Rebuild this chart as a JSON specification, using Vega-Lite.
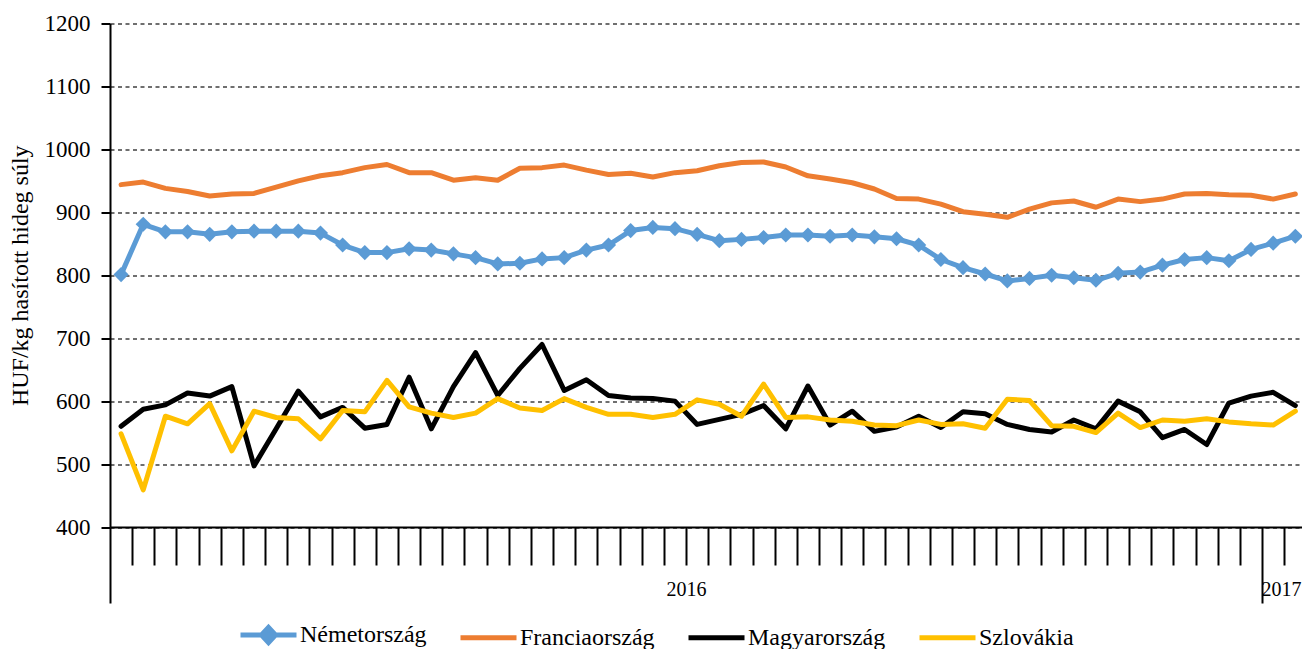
{
  "$schema": "https://vega.github.io/schema/vega-lite/v6.json",
  "width": 1192,
  "height": 503.5,
  "autosize": {"type": "none"},
  "padding": {"left": 110, "top": 23.5, "right": 0, "bottom": 122},
  "background": "white",
  "config": {"view": {"stroke": null}, "font": "Liberation Serif"},
  "data": {
    "values": [
      {"n": 1, "Németország": 801, "Franciaország": 944, "Magyarország": 560, "Szlovákia": 548},
      {"n": 2, "Németország": 881, "Franciaország": 948, "Magyarország": 587, "Szlovákia": 459},
      {"n": 3, "Németország": 869, "Franciaország": 938, "Magyarország": 594, "Szlovákia": 576},
      {"n": 4, "Németország": 869, "Franciaország": 933, "Magyarország": 613, "Szlovákia": 564},
      {"n": 5, "Németország": 865, "Franciaország": 926, "Magyarország": 608, "Szlovákia": 596},
      {"n": 6, "Németország": 869, "Franciaország": 929, "Magyarország": 623, "Szlovákia": 521},
      {"n": 7, "Németország": 870, "Franciaország": 930, "Magyarország": 497, "Szlovákia": 584},
      {"n": 8, "Németország": 870, "Franciaország": 940, "Magyarország": 556, "Szlovákia": 574},
      {"n": 9, "Németország": 870, "Franciaország": 950, "Magyarország": 616, "Szlovákia": 572},
      {"n": 10, "Németország": 867, "Franciaország": 958, "Magyarország": 575, "Szlovákia": 540},
      {"n": 11, "Németország": 848, "Franciaország": 963, "Magyarország": 590, "Szlovákia": 585},
      {"n": 12, "Németország": 836, "Franciaország": 971, "Magyarország": 557, "Szlovákia": 583},
      {"n": 13, "Németország": 836, "Franciaország": 976, "Magyarország": 563, "Szlovákia": 633},
      {"n": 14, "Németország": 842, "Franciaország": 963, "Magyarország": 638, "Szlovákia": 591},
      {"n": 15, "Németország": 840, "Franciaország": 963, "Magyarország": 556, "Szlovákia": 581},
      {"n": 16, "Németország": 834, "Franciaország": 951, "Magyarország": 623, "Szlovákia": 574},
      {"n": 17, "Németország": 828, "Franciaország": 955, "Magyarország": 677, "Szlovákia": 581},
      {"n": 18, "Németország": 818, "Franciaország": 951, "Magyarország": 609, "Szlovákia": 604},
      {"n": 19, "Németország": 819, "Franciaország": 970, "Magyarország": 652, "Szlovákia": 589},
      {"n": 20, "Németország": 826, "Franciaország": 971, "Magyarország": 690, "Szlovákia": 585},
      {"n": 21, "Németország": 828, "Franciaország": 975, "Magyarország": 617, "Szlovákia": 604},
      {"n": 22, "Németország": 840, "Franciaország": 967, "Magyarország": 634, "Szlovákia": 590},
      {"n": 23, "Németország": 848, "Franciaország": 960, "Magyarország": 609, "Szlovákia": 579},
      {"n": 24, "Németország": 871, "Franciaország": 962, "Magyarország": 605, "Szlovákia": 579},
      {"n": 25, "Németország": 876, "Franciaország": 956, "Magyarország": 604, "Szlovákia": 574},
      {"n": 26, "Németország": 874, "Franciaország": 963, "Magyarország": 600, "Szlovákia": 579},
      {"n": 27, "Németország": 865, "Franciaország": 966, "Magyarország": 563, "Szlovákia": 602},
      {"n": 28, "Németország": 855, "Franciaország": 974, "Magyarország": 571, "Szlovákia": 595},
      {"n": 29, "Németország": 857, "Franciaország": 979, "Magyarország": 579, "Szlovákia": 576},
      {"n": 30, "Németország": 860, "Franciaország": 980, "Magyarország": 593, "Szlovákia": 627},
      {"n": 31, "Németország": 864, "Franciaország": 972, "Magyarország": 556, "Szlovákia": 574},
      {"n": 32, "Németország": 864, "Franciaország": 958, "Magyarország": 624, "Szlovákia": 575},
      {"n": 33, "Németország": 862, "Franciaország": 953, "Magyarország": 562, "Szlovákia": 570},
      {"n": 34, "Németország": 864, "Franciaország": 947, "Magyarország": 584, "Szlovákia": 568},
      {"n": 35, "Németország": 861, "Franciaország": 937, "Magyarország": 552, "Szlovákia": 562},
      {"n": 36, "Németország": 858, "Franciaország": 922, "Magyarország": 559, "Szlovákia": 561},
      {"n": 37, "Németország": 848, "Franciaország": 921, "Magyarország": 576, "Szlovákia": 570},
      {"n": 38, "Németország": 825, "Franciaország": 913, "Magyarország": 558, "Szlovákia": 563},
      {"n": 39, "Németország": 812, "Franciaország": 901, "Magyarország": 583, "Szlovákia": 564},
      {"n": 40, "Németország": 802, "Franciaország": 897, "Magyarország": 580, "Szlovákia": 557},
      {"n": 41, "Németország": 791, "Franciaország": 892, "Magyarország": 563, "Szlovákia": 603},
      {"n": 42, "Németország": 795, "Franciaország": 905, "Magyarország": 555, "Szlovákia": 601},
      {"n": 43, "Németország": 800, "Franciaország": 915, "Magyarország": 551, "Szlovákia": 561},
      {"n": 44, "Németország": 796, "Franciaország": 918, "Magyarország": 570, "Szlovákia": 560},
      {"n": 45, "Németország": 792, "Franciaország": 908, "Magyarország": 556, "Szlovákia": 550},
      {"n": 46, "Németország": 803, "Franciaország": 921, "Magyarország": 600, "Szlovákia": 581},
      {"n": 47, "Németország": 805, "Franciaország": 917, "Magyarország": 583, "Szlovákia": 558},
      {"n": 48, "Németország": 816, "Franciaország": 921, "Magyarország": 542, "Szlovákia": 570},
      {"n": 49, "Németország": 825, "Franciaország": 929, "Magyarország": 555, "Szlovákia": 568},
      {"n": 50, "Németország": 828, "Franciaország": 930, "Magyarország": 531, "Szlovákia": 572},
      {"n": 51, "Németország": 823, "Franciaország": 928, "Magyarország": 597, "Szlovákia": 567},
      {"n": 52, "Németország": 841, "Franciaország": 927, "Magyarország": 608, "Szlovákia": 564},
      {"n": 53, "Németország": 851, "Franciaország": 921, "Magyarország": 614, "Szlovákia": 562},
      {"n": 54, "Németország": 862, "Franciaország": 929, "Magyarország": 593, "Szlovákia": 584}
    ]
  },
  "transform": [
    {"fold": ["Németország", "Franciaország", "Magyarország", "Szlovákia"], "as": ["orszag", "ar"]}
  ],
  "layer": [
    {
      "mark": {"type": "line", "strokeWidth": 5, "strokeJoin": "round", "strokeCap": "round"},
      "encoding": {
        "x": {
          "field": "n",
          "type": "quantitative",
          "scale": {"domain": [0.5, 54.3], "nice": false, "zero": false},
          "axis": {
            "title": null,
            "tickCount": 200,
            "values": [0.5, 1.5, 2.5, 3.5, 4.5, 5.5, 6.5, 7.5, 8.5, 9.5, 10.5, 11.5, 12.5, 13.5, 14.5, 15.5, 16.5, 17.5, 18.5, 19.5, 20.5, 21.5, 22.5, 23.5, 24.5, 25.5, 26.5, 27.5, 28.5, 29.5, 30.5, 31.5, 32.5, 33.5, 34.5, 35.5, 36.5, 37.5, 38.5, 39.5, 40.5, 41.5, 42.5, 43.5, 44.5, 45.5, 46.5, 47.5, 48.5, 49.5, 50.5, 51.5, 52.5, 53.35, 53.5],
            "tickSize": {"condition": {"test": "datum.value == 0.5 || datum.value == 52.5", "value": 76}, "value": 38},
            "tickOpacity": {"condition": {"test": "datum.value == 53.35", "value": 0}, "value": 1},
            "tickColor": "black",
            "tickWidth": 2,
            "domainColor": "black",
            "domainWidth": 2,
            "labelExpr": "datum.value == 26.5 ? '2016' : (datum.value == 53.35 ? '2017' : '')",
            "labelFontSize": 20,
            "labelFont": "Liberation Serif",
            "labelColor": "black",
            "labelPadding": 14,
            "labelOverlap": false,
            "labelFlush": false,
            "labelBound": false,
            "grid": false
          }
        },
        "y": {
          "field": "ar",
          "type": "quantitative",
          "scale": {"domain": [400, 1200], "nice": false, "zero": false},
          "axis": {
            "title": "HUF/kg hasított hideg súly",
            "values": [400, 500, 600, 700, 800, 900, 1000, 1100, 1200],
            "format": "d",
            "tickSize": 9,
            "tickWidth": 2,
            "tickColor": "black",
            "domainColor": "black",
            "domainWidth": 2,
            "labelFontSize": 23,
            "labelFont": "Liberation Serif",
            "labelColor": "black",
            "labelPadding": 11,
            "grid": true,
            "gridDash": [4, 3.5],
            "gridColor": "#404040",
            "gridWidth": 1.3,
            "titleFont": "Liberation Serif",
            "titleFontSize": 24,
            "titleFontWeight": "normal",
            "titleColor": "black",
            "titlePadding": 12
          }
        },
        "color": {
          "field": "orszag",
          "type": "nominal",
          "scale": {
            "domain": ["Németország", "Franciaország", "Magyarország", "Szlovákia"],
            "range": ["#5B9BD5", "#ED7D31", "#000000", "#FFC000"]
          },
          "legend": {
            "orient": "none",
            "legendX": 128,
            "legendY": 580.5,
            "direction": "horizontal",
            "title": null,
            "symbolType": "stroke",
            "symbolSize": 3136,
            "symbolStrokeWidth": 5,
            "labelFontSize": 24,
            "labelFont": "Liberation Serif",
            "labelColor": "black",
            "labelOffset": 1,
            "columnPadding": 23,
            "padding": 0,
            "labelLimit": 0,
            "encode": {
              "symbols": {
                "update": {
                  "shape": {"signal": "datum.label === 'Németország' ? 'M-1,0H1M-0.25,0L0,-0.27L0.25,0L0,0.27Z' : 'stroke'"},
                  "fill": {"signal": "datum.label === 'Németország' ? '#5B9BD5' : 'transparent'"},
                  "strokeWidth": {"value": 5}
                }
              }
            }
          }
        }
      }
    },
    {
      "transform": [{"filter": "datum.orszag === 'Németország'"}],
      "mark": {"type": "point", "shape": "diamond", "filled": true, "size": 230, "color": "#5B9BD5", "opacity": 1},
      "encoding": {
        "x": {"field": "n", "type": "quantitative", "title": null},
        "y": {"field": "ar", "type": "quantitative", "title": "HUF/kg hasított hideg súly"}
      }
    }
  ]
}
